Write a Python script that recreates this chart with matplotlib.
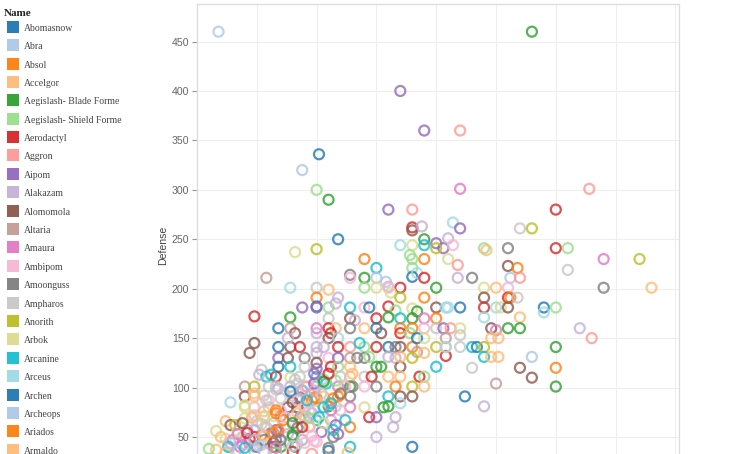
import matplotlib
matplotlib.use("Agg")
import matplotlib.pyplot as plt
from matplotlib.patches import Rectangle

# ---- data (Attack, Defense, name-colour group letter) ----
attack = [
    9, 85, 95, 51, 44, 50, 55, 80, 90, 90,
    90, 94, 59, 95, 100, 103, 100, 85, 90, 95,
    50, 41, 70, 95, 89, 90, 90, 75, 90, 92,
    95, 29, 64, 64, 70, 75, 79, 80, 85, 100,
    39, 50, 55, 70, 75, 80, 81, 85, 95, 50,
    59, 44, 50, 50, 55, 58, 64, 70, 72, 80,
    83, 90, 92, 100, 104, 24, 39, 55, 64, 66,
    75, 80, 85, 90, 95, 100, 34, 39, 50, 55,
    58, 64, 70, 75, 85, 90, 95, 100, 103, 41,
    56, 50, 77, 85, 89, 24, 22, 34, 39, 43,
    38, 55, 59, 50, 53, 59, 64, 70, 68, 75,
    80, 83, 85, 90, 92, 95, 100, 104, 92, 34,
    38, 45, 50, 55, 59, 64, 67, 70, 90, 83,
    50, 27, 34, 39, 45, 56, 59, 64, 75, 77,
    85, 100, 29, 33, 39, 50, 53, 64, 70, 73,
    80, 85, 93, 95, 50, 72, 80, 85, 140, 110,
    110, 164, 150, 107, 110, 135, 140, 105, 107, 105,
    109, 120, 121, 130, 150, 155, 170, 185, 130, 134,
    131, 135, 155, 109, 115, 120, 125, 130, 170, 190,
    120, 130, 131, 134, 105, 110, 120, 125, 127, 130,
    145, 145, 150, 120, 135, 106, 110, 110, 104, 123,
    125, 130, 135, 160, 165, 123, 126, 104, 110, 115,
    117, 120, 150, 120, 123, 126, 140, 115, 135, 150,
    140, 125, 150, 112, 120, 95, 104, 20, 24, 33,
    39, 45, 50, 59, 64, 65, 70, 75, 83, 90,
    95, 14, 20, 24, 38, 45, 50, 55, 59, 64,
    70, 80, 80, 85, 85, 90, 64, 72, 75, 82,
    75, 64, 59, 52, 50, 64, 90, 8, 12, 14,
    16, 41, 20, 24, 28, 30, 33, 40, 40, 32,
    35, 35, 28, 23, 25, 21, 12, 15, 19, 22,
    24, 27, 29, 33, 34, 38, 40, 42, 43, 42,
    44, 32, 35, 38, 14, 19, 24, 27, 8, 42,
    50, 54, 60, 65, 46, 48, 53, 60, 58, 60,
    47, 50, 56, 62, 47, 44, 46, 57, 35, 42,
    49, 52, 58, 62, 78, 83, 58, 37, 33, 31,
    24, 10, 20, 24, 28, 30, 33, 40, 43, 45,
    49, 55, 57, 60, 36, 40, 44, 48, 47, 42,
    32, 27, 21, 17, 28, 32, 18, 25, 13, 56,
    12, 20, 33, 48, 17, 40, 28, 55, 5, 63,
    20, 24, 29, 30, 34, 39, 41, 42, 46, 49,
    53, 52, 44, 49, 45, 53, 56, 23, 28, 33,
    37, 42, 19, 24, 29, 34, 40, 44, 47, 51,
    53, 57, 17, 21, 24, 28, 32, 35, 40, 44,
    48, 14, 20, 26, 33, 40, 45, 49, 55, 26,
    31, 43, 49, 55,
]
defense = [
    460, 400, 360, 336, 320, 300, 290, 280, 280, 262,
    259, 263, 250, 250, 246, 241, 241, 244, 244, 244,
    240, 237, 230, 230, 234, 230, 221, 221, 212, 216,
    211, 211, 214, 211, 211, 211, 207, 202, 201, 201,
    201, 201, 199, 201, 201, 201, 196, 191, 191, 191,
    191, 181, 182, 181, 181, 185, 181, 181, 181, 182,
    178, 180, 177, 181, 181, 172, 171, 170, 170, 168,
    170, 171, 170, 170, 170, 170, 160, 160, 160, 160,
    160, 160, 160, 160, 160, 160, 160, 160, 160, 155,
    155, 155, 155, 155, 155, 145, 135, 141, 141, 141,
    150, 150, 150, 141, 141, 141, 141, 141, 145, 141,
    141, 141, 141, 141, 150, 150, 141, 132, 136, 130,
    130, 130, 135, 130, 130, 130, 130, 130, 130, 130,
    125, 118, 121, 121, 121, 121, 121, 121, 121, 121,
    121, 121, 111, 111, 110, 111, 108, 111, 111, 111,
    111, 111, 111, 111, 119, 131, 131, 131, 460, 360,
    301, 301, 280, 267, 261, 261, 261, 251, 244, 230,
    224, 241, 239, 241, 241, 241, 230, 230, 223, 221,
    211, 211, 219, 211, 211, 201, 201, 201, 201, 201,
    191, 191, 191, 191, 181, 181, 181, 181, 181, 181,
    181, 176, 181, 171, 171, 160, 160, 153, 150, 160,
    158, 160, 160, 160, 150, 150, 150, 141, 141, 141,
    141, 141, 141, 131, 131, 131, 131, 120, 120, 120,
    110, 104, 101, 91, 81, 135, 141, 101, 101, 101,
    101, 101, 101, 101, 101, 101, 101, 101, 101, 101,
    101, 85, 91, 94, 80, 84, 89, 81, 91, 91,
    80, 91, 81, 91, 84, 91, 80, 70, 70, 60,
    50, 60, 53, 55, 45, 40, 40, 56, 66, 62,
    62, 40, 82, 80, 92, 87, 98, 97, 91, 71,
    71, 77, 71, 69, 66, 57, 48, 47, 50, 48,
    47, 52, 59, 47, 55, 53, 50, 60, 69, 80,
    97, 40, 40, 43, 40, 42, 40, 42, 37, 43,
    104, 104, 111, 114, 101, 87, 91, 93, 81, 77,
    77, 67, 67, 67, 60, 47, 87, 50, 89, 104,
    104, 108, 107, 101, 80, 70, 62, 60, 57, 54,
    50, 50, 69, 72, 76, 80, 77, 85, 90, 80,
    90, 84, 89, 94, 67, 71, 72, 74, 61, 59,
    64, 63, 57, 56, 47, 44, 40, 40, 40, 77,
    34, 33, 34, 33, 36, 35, 35, 36, 38, 34,
    80, 91, 87, 101, 99, 96, 108, 87, 87, 97,
    106, 94, 97, 77, 71, 80, 84, 70, 70, 74,
    70, 74, 64, 57, 60, 57, 64, 60, 69, 70,
    64, 57, 53, 54, 47, 51, 54, 47, 52, 47,
    51, 44, 39, 41, 39, 41, 44, 46, 39, 113,
    113, 111, 114, 114,
]
group_codes = (
    "bPPBbgGPrR" "NpBGPPLtlT" "LlOOgggTBt" "RnYkGbbpRG" "tyoglklLOO"
    "pPBPgpTkBR" "glGNtRGyNp" "RGTGKOBnKR" "oYoBOOkyPN" "RpNRgNNBNR"
    "pNtppRrgTR" "BYNOBlLRnP" "NYpkPnYYLp" "NyBTyRgoGG" "NTTRlTgoyR"
    "ooRgPgpoGr" "KrRtPyLpkl" "rgoYRgKLNO" "brypYlokYo" "NROytBRtlN"
    "BtgtorlynN" "KGGproooyT" "BLGToobyNO" "NnGBpotnLy" "pkpKGYkYOL"
    "otNoNkOGOY" "lTGNtNKRPp" "pOPPkTBloN" "LYlkykyyyl" "OkolyylKpR"
    "yOoPPpGkYN" "TNGytKgkot" "kTyorOoOyk" "kTpTklkYyy" "PtgkGpPkPP"
    "RolkoyONYo" "OyOYOYkpoY" "yyplYNKPTK" "oygrbRpBgo"
    "loyypBykTp" "GypyyTTolO" "koNpyOGRgT" "lTKRpoOYGp" "kpTtKykkYp"
    "TyPR"
)
code_order = "BbOoGgRrPpNnKkYyLlTt"   # tab20 order

legend_names = [
    "Abomasnow", "Abra", "Absol", "Accelgor", "Aegislash- Blade Forme",
    "Aegislash- Shield Forme", "Aerodactyl", "Aggron", "Aipom", "Alakazam",
    "Alomomola", "Altaria", "Amaura", "Ambipom", "Amoonguss", "Ampharos",
    "Anorith", "Arbok", "Arcanine", "Arceus", "Archen", "Archeops",
    "Ariados", "Armaldo",
]
y_ticks = [50, 100, 150, 200, 250, 300, 350, 400, 450]
x_ticks = [0, 25, 50, 75, 100, 125, 150, 175, 200]

# ---- figure ----
W, H = 736, 454
fig = plt.figure(figsize=(W / 100, H / 100), dpi=100)
fig.patch.set_facecolor("white")

ax_left, ax_right, ax_top, ax_bottom = 197, 679, 4, 486.4
ax = fig.add_axes([ax_left / W, 1 - ax_bottom / H,
                   (ax_right - ax_left) / W, (ax_bottom - ax_top) / H])

tab20 = plt.get_cmap("tab20").colors
n = min(len(attack), len(defense), len(group_codes))
cols = [tab20[code_order.index(c)] for c in group_codes[:n]]
ax.scatter(attack[:n], defense[:n], s=52, facecolors="none",
           edgecolors=cols, linewidths=1.6, alpha=0.8, zorder=3)

ax.set_xlim(0, 201.5)
ax.set_ylim(0, 488)
ax.set_xticks(x_ticks)
ax.set_yticks(y_ticks)
ax.grid(True, color="#eeeeee", linewidth=0.8, zorder=0)
ax.set_axisbelow(True)
for s in ax.spines.values():
    s.set_color("#dddddd")
    s.set_linewidth(0.9)
ax.tick_params(axis="y", length=3.6, width=0.8, color="#999999",
               labelcolor="#666666", labelsize=7.6, pad=2)
for lab in ax.get_yticklabels():
    lab.set_fontfamily("Liberation Sans")
ax.tick_params(axis="x", labelbottom=False, length=0)
ax.set_ylabel("Defense", fontsize=7.6, color="#444444",
              fontfamily="Liberation Sans")
ax.yaxis.set_label_coords((168 - ax_left) / (ax_right - ax_left), 0.5)

# ---- legend (manual, figure pixel coordinates) ----
fig.text(4 / W, 1 - 14 / H, "Name", fontsize=8, fontweight="bold",
         fontfamily="Liberation Serif", color="#222222",
         ha="left", va="center")
pitch = 18.4
for i, name in enumerate(legend_names):
    y0 = 20.7 + pitch * i
    fig.add_artist(Rectangle((6.7 / W, 1 - (y0 + 12) / H), 12.3 / W, 12 / H,
                             transform=fig.transFigure,
                             facecolor=tab20[i % 20], edgecolor="none",
                             alpha=0.95))
    fig.text(24 / W, 1 - (y0 + 7.5) / H, name, fontsize=7.0,
             fontfamily="Liberation Serif", color="#444444",
             ha="left", va="center")

fig.savefig("out.png", dpi=100)
